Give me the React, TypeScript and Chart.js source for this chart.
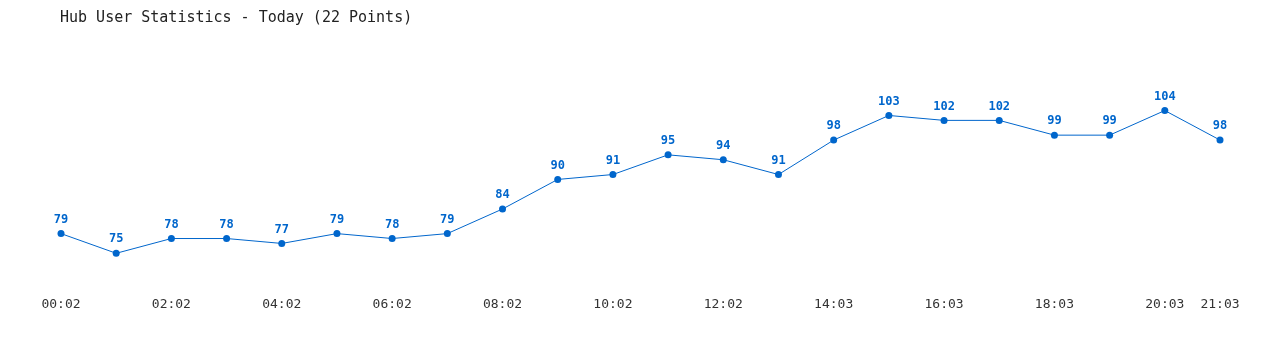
import React, { useEffect, useRef } from "react";
import { Chart, registerables } from "chart.js";

Chart.register(...registerables);

const TITLE = "Hub User Statistics - Today (22 Points)";
const timeLabels = [
  "00:02", "01:02", "02:02", "03:02", "04:02", "05:02", "06:02", "07:02",
  "08:02", "09:02", "10:02", "11:02", "12:02", "13:02", "14:03", "15:03",
  "16:03", "17:03", "18:03", "19:03", "20:03", "21:03",
];
const userCounts = [
  79, 75, 78, 78, 77, 79, 78, 79, 84, 90, 91, 95, 94, 91, 98, 103, 102, 102, 99, 99, 104, 98,
];

const BLUE = "#0066cc";

const overlayPlugin = {
  id: "overlay",
  afterDatasetsDraw(chart: any) {
    const ctx = chart.ctx;
    const meta = chart.getDatasetMeta(0);
    ctx.save();
    ctx.fillStyle = BLUE;
    ctx.font = "bold 12px 'DejaVu Sans Mono', monospace";
    ctx.textAlign = "center";
    ctx.textBaseline = "middle";
    meta.data.forEach((pt: any, i: number) => {
      ctx.fillText(String(userCounts[i]), pt.x, pt.y - 14);
    });
    ctx.fillStyle = "#222222";
    ctx.font = "15px 'DejaVu Sans Mono', monospace";
    ctx.textAlign = "left";
    ctx.fillText(TITLE, 60, 18);
    ctx.restore();
  },
};

export default function App() {
  const ref = useRef<HTMLCanvasElement>(null);
  useEffect(() => {
    document.body.style.margin = "0";
    const chart = new Chart(ref.current!, {
      type: "line",
      data: {
        labels: timeLabels,
        datasets: [
          {
            data: userCounts,
            borderColor: BLUE,
            backgroundColor: BLUE,
            borderWidth: 1,
            pointRadius: 3.5,
            pointBackgroundColor: BLUE,
            pointBorderWidth: 0,
            tension: 0,
            fill: false,
          },
        ],
      },
      options: {
        animation: false,
        responsive: false,
        devicePixelRatio: 1,
        layout: { padding: { left: 61, right: 60, top: 81, bottom: 18.5 } },
        plugins: {
          legend: { display: false },
          title: { display: false },
          tooltip: { enabled: false },
        },
        scales: {
          x: {
            offset: false,
            grid: { display: false, drawTicks: false },
            border: { display: false },
            ticks: {
              autoSkip: false,
              maxRotation: 0,
              padding: 19,
              color: "#333333",
              font: { family: "'DejaVu Sans Mono', monospace", size: 13 },
              callback: (_v: any, i: number) =>
                i % 2 === 0 || i === timeLabels.length - 1 ? timeLabels[i] : "",
            },
          },
          y: { display: false, min: 70, max: 110 },
        },
      },
      plugins: [overlayPlugin],
    });
    return () => chart.destroy();
  }, []);
  return (
    <div style={{ width: 1280, height: 350, background: "#fff" }}>
      <canvas ref={ref} width={1280} height={350} />
    </div>
  );
}
